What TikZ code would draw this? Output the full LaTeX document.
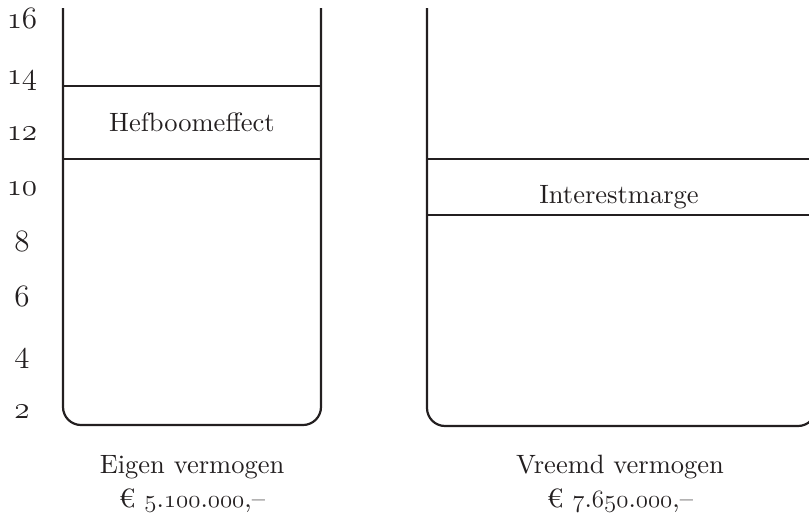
\documentclass[tikz,border=0pt]{standalone}
\usepackage{fontspec}
\setmainfont{lmroman10-regular.otf}
\definecolor{ink}{HTML}{231F20}
\newcommand{\osn}[1]{{\usefont{OML}{cmm}{m}{it}#1}}
\newcommand{\osnbig}[1]{\scalebox{1.25}{\osn{#1}}}
\tikzset{
  wall/.style={draw=ink, line width=2.2pt, rounded corners=18pt},
  divider/.style={draw=ink, line width=2.2pt},
  lbl/.style={text=ink, font=\fontsize{26.5}{31}\selectfont, anchor=base, inner sep=0pt},
  ticklbl/.style={text=ink, font=\fontsize{24.88}{30}\selectfont, anchor=base, inner sep=0pt}
}
\begin{document}
\begin{tikzpicture}[x=1pt,y=-1pt]
\useasboundingbox (0,0) rectangle (809,512);
\begin{scope}
\clip (0,0) rectangle (809,512);
% left container
\draw[wall] (63,8) -- (63,425) -- (321,425) -- (321,8);
\draw[divider] (63,86) -- (321,86);
\draw[divider] (63,159) -- (321,159);
% right container
\draw[wall] (427,8) -- (427,426) -- (816,426) -- (816,8);
\draw[divider] (427,159) -- (816,159);
\draw[divider] (427,215) -- (816,215);
\end{scope}
% axis labels
\foreach \v [count=\i from 0] in {2,4,6,8,10,12,14,16}
  \node[ticklbl] (t\v) at (22,{418-55.6*\i}) {\osnbig{\v}};
% texts
\node[lbl] (hef) at (192,131) {Hefboomeffect};
\node[lbl] (int) at (619,203) {Interestmarge};
\node[lbl] (ev) at (192,473) {Eigen vermogen};
\node[lbl] (eva) at (192,507) {€ \osn{5}.\osn{100}.\osn{000},–};
\node[lbl] (vv) at (620,473) {Vreemd vermogen};
\node[lbl] (vva) at (620,507) {€ \osn{7}.\osn{650}.\osn{000},–};
\end{tikzpicture}
\end{document}
